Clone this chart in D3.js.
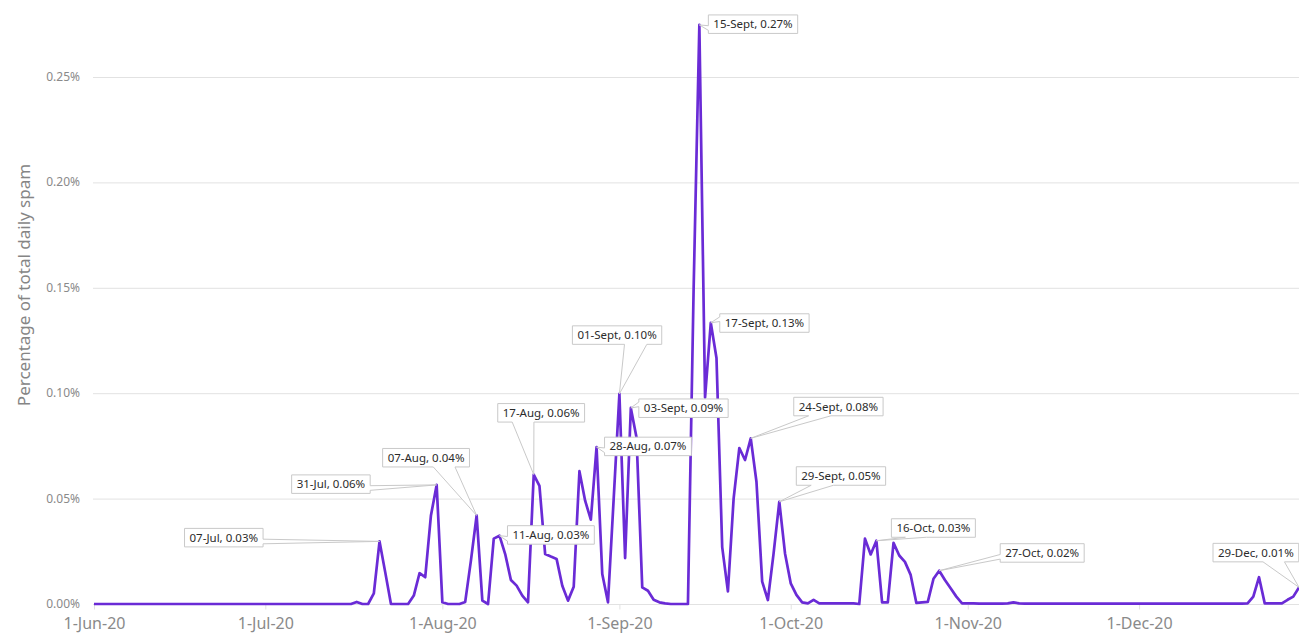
<!DOCTYPE html>
<html>
<head>
<meta charset="utf-8">
<script src="https://cdn.jsdelivr.net/npm/d3@7"></script>
<style>
  html, body { margin: 0; padding: 0; background: #fff; }
  svg { display: block; font-family: "Noto Sans", sans-serif; }
</style>
</head>
<body>
<svg id="chart" width="1299" height="633"></svg>
<script>
// daily share of total spam (%), one array per month, 1-Jun-20 .. 29-Dec-20
const jun = d3.range(30).map(() => 0)
const jul = [0, 0, 0, 0, 0, 0, 0, 0, 0, 0, 0, 0, 0, 0, 0,
  0, 0.001, 0, 0, 0.005, 0.0297, 0.015, 0, 0, 0, 0, 0.004, 0.0146, 0.0127, 0.042, 0.0565]
const aug = [0.0008, 0, 0, 0, 0.001, 0.0206, 0.042, 0.0016, 0, 0.031, 0.0324, 0.0237, 0.0114, 0.0087, 0.004, 0.0008,
  0.0614, 0.056, 0.0237, 0.0225, 0.0214, 0.0087, 0.0016, 0.0082, 0.063, 0.049, 0.040, 0.0744, 0.0142, 0.0008, 0.05]
const sep = [0.0997, 0.0218, 0.093, 0.079, 0.0079, 0.0063, 0.002, 0.0008, 0.0003, 0, 0, 0, 0, 0.15, 0.2747,
  0.098, 0.1334, 0.1167, 0.027, 0.006, 0.050, 0.074, 0.0683, 0.0786, 0.058, 0.0106, 0.0019, 0.024, 0.0485, 0.024]
const oct = [0.0098, 0.0043, 0.0008, 0.0003, 0.002, 0.0003, 0.0003, 0.0003, 0.0003, 0.0003, 0.0003, 0.0003, 0, 0.031, 0.0235,
  0.030, 0.0008, 0.0008, 0.029, 0.023, 0.020, 0.0138, 0.0005, 0.0008, 0.001, 0.012, 0.0158, 0.0114, 0.0075, 0.0035, 0.0003]
const nov = [0.0003, 0.0003, 0.0002, 0.0002, 0.0002, 0.0002, 0.0002, 0.0003, 0.0008, 0.0003, 0.0002, 0.0002, 0.0002, 0.0002, 0.0002,
  0.0002, 0.0002, 0.0002, 0.0002, 0.0002, 0.0002, 0.0002, 0.0002, 0.0002, 0.0002, 0.0002, 0.0002, 0.0002, 0.0002, 0.0002]
const dec = [0.0002, 0.0002, 0.0002, 0.0002, 0.0002, 0.0002, 0.0002, 0.0002, 0.0002, 0.0002, 0.0002, 0.0002, 0.0002, 0.0002, 0.0002,
  0.0002, 0.0002, 0.0002, 0.0002, 0.0003, 0.0035, 0.0127, 0.0003, 0.0003, 0.0003, 0.0003, 0.002, 0.0035, 0.0079]

const startDate = new Date(2020, 5, 1)
const values = [].concat(jun, jul, aug, sep, oct, nov, dec)
const dates = values.map((v, i) => d3.timeDay.offset(startDate, i))

const yTicks = [0, 0.05, 0.10, 0.15, 0.20, 0.25]
const xTicks = d3.timeMonth.range(new Date(2020, 5, 1), new Date(2020, 11, 2))

// callout labels and the day they point at
const labelDates = ['2020-07-21', '2020-07-31', '2020-08-07', '2020-08-11', '2020-08-17', '2020-08-28', '2020-09-01',
  '2020-09-03', '2020-09-15', '2020-09-17', '2020-09-24', '2020-09-29', '2020-10-16', '2020-10-27', '2020-12-29']
const labelTexts = ['07-Jul, 0.03%', '31-Jul, 0.06%', '07-Aug, 0.04%', '11-Aug, 0.03%', '17-Aug, 0.06%', '28-Aug, 0.07%', '01-Sept, 0.10%',
  '03-Sept, 0.09%', '15-Sept, 0.27%', '17-Sept, 0.13%', '24-Sept, 0.08%', '29-Sept, 0.05%', '16-Oct, 0.03%', '27-Oct, 0.02%', '29-Dec, 0.01%']
// box offset from the point it labels (layout only)
const labelOffsets = [[-195, -13], [-145, -10], [-94, -67], [8, -10], [-36, -71], [8, -10], [-47, -68],
  [8, -9], [9, -10], [9, -9], [43, -41], [17, -35], [15, -22], [61, -27], [-86, -44]]

const svg = d3.select('#chart')
const x = d3.scaleTime().domain([startDate, dates[dates.length - 1]]).range([94, 1299])
const y = d3.scaleLinear().domain([0, 0.25]).range([604, 77])

// grid
svg.append('g')
  .selectAll('line').data(yTicks).join('line')
  .attr('x1', 93).attr('x2', 1299)
  .attr('y1', d => y(d) + 0.5).attr('y2', d => y(d) + 0.5)
  .attr('stroke', '#e2e2e2').attr('stroke-width', 1)

// y labels
svg.append('g')
  .selectAll('text').data(yTicks).join('text')
  .attr('x', 80).attr('y', d => y(d) + 4)
  .attr('text-anchor', 'end')
  .attr('font-size', 12).attr('fill', '#8a8a8a')
  .text(d => d3.format('.2f')(d) + '%')

// x axis
const xAxis = svg.append('g')
  .attr('transform', `translate(0, ${y(0) + 0.5})`)
  .call(d3.axisBottom(x).tickValues(xTicks).tickFormat(d3.timeFormat('%-d-%b-%y')).tickSize(5).tickPadding(8))
xAxis.select('.domain').remove()
xAxis.selectAll('line').attr('stroke', '#e2e2e2')
xAxis.selectAll('text').attr('fill', '#8a8a8a').attr('font-size', 16)
  .attr('font-family', '"Noto Sans", sans-serif')

svg.append('text')
  .attr('transform', 'translate(30, 285) rotate(-90)')
  .attr('text-anchor', 'middle')
  .attr('font-size', 17).attr('fill', '#858585')
  .text('Percentage of total daily spam')

// line
const line = d3.line().x((d, i) => x(dates[i])).y(d => y(d))
svg.append('path')
  .datum(values)
  .attr('d', line)
  .attr('fill', 'none')
  .attr('stroke', '#6a2bd6')
  .attr('stroke-width', 2.7)
  .attr('stroke-linejoin', 'round')

// callout shape like a wedge rect callout
function callout (bx, by, w, h, px, py) {
  const hc = bx + w / 2, vc = by + h / 2
  const dxPos = px - hc, dyPos = py - vc
  const vertical = Math.abs(dyPos * w) > Math.abs(dxPos * h)
  let side, a, b
  if (vertical) {
    side = dyPos > 0 ? 'bottom' : 'top'
    a = dxPos > 0 ? bx + w * 7 / 12 : bx + w * 2 / 12
    b = dxPos > 0 ? bx + w * 10 / 12 : bx + w * 5 / 12
  } else {
    side = dxPos > 0 ? 'right' : 'left'
    a = dyPos > 0 ? by + h * 7 / 12 : by + h * 2 / 12
    b = dyPos > 0 ? by + h * 10 / 12 : by + h * 5 / 12
  }
  const p = d3.path()
  p.moveTo(bx, by)
  if (side === 'top') { p.lineTo(a, by); p.lineTo(px, py); p.lineTo(b, by) }
  p.lineTo(bx + w, by)
  if (side === 'right') { p.lineTo(bx + w, a); p.lineTo(px, py); p.lineTo(bx + w, b) }
  p.lineTo(bx + w, by + h)
  if (side === 'bottom') { p.lineTo(b, by + h); p.lineTo(px, py); p.lineTo(a, by + h) }
  p.lineTo(bx, by + h)
  if (side === 'left') { p.lineTo(bx, b); p.lineTo(px, py); p.lineTo(bx, a) }
  p.closePath()
  return p.toString()
}

const parse = d3.timeParse('%Y-%m-%d')
const labels = svg.append('g')
labelTexts.forEach((t, i) => {
  const d = parse(labelDates[i])
  const idx = d3.timeDay.count(startDate, d)
  const px = x(dates[idx]), py = y(values[idx])
  const bx = px + labelOffsets[i][0], by = py + labelOffsets[i][1]
  const g = labels.append('g')
  const shape = g.append('path')
  const txt = g.append('text')
    .attr('x', bx + 5).attr('y', by + 13.2)
    .attr('font-size', 11.5).attr('fill', '#2b2b2b')
    .text(t)
  const w = txt.node().getComputedTextLength() + 10
  shape.attr('d', callout(bx, by, w, 18.5, px, py))
    .attr('fill', '#fff').attr('stroke', '#c9c9c9').attr('stroke-width', 1)
})
</script>
</body>
</html>
